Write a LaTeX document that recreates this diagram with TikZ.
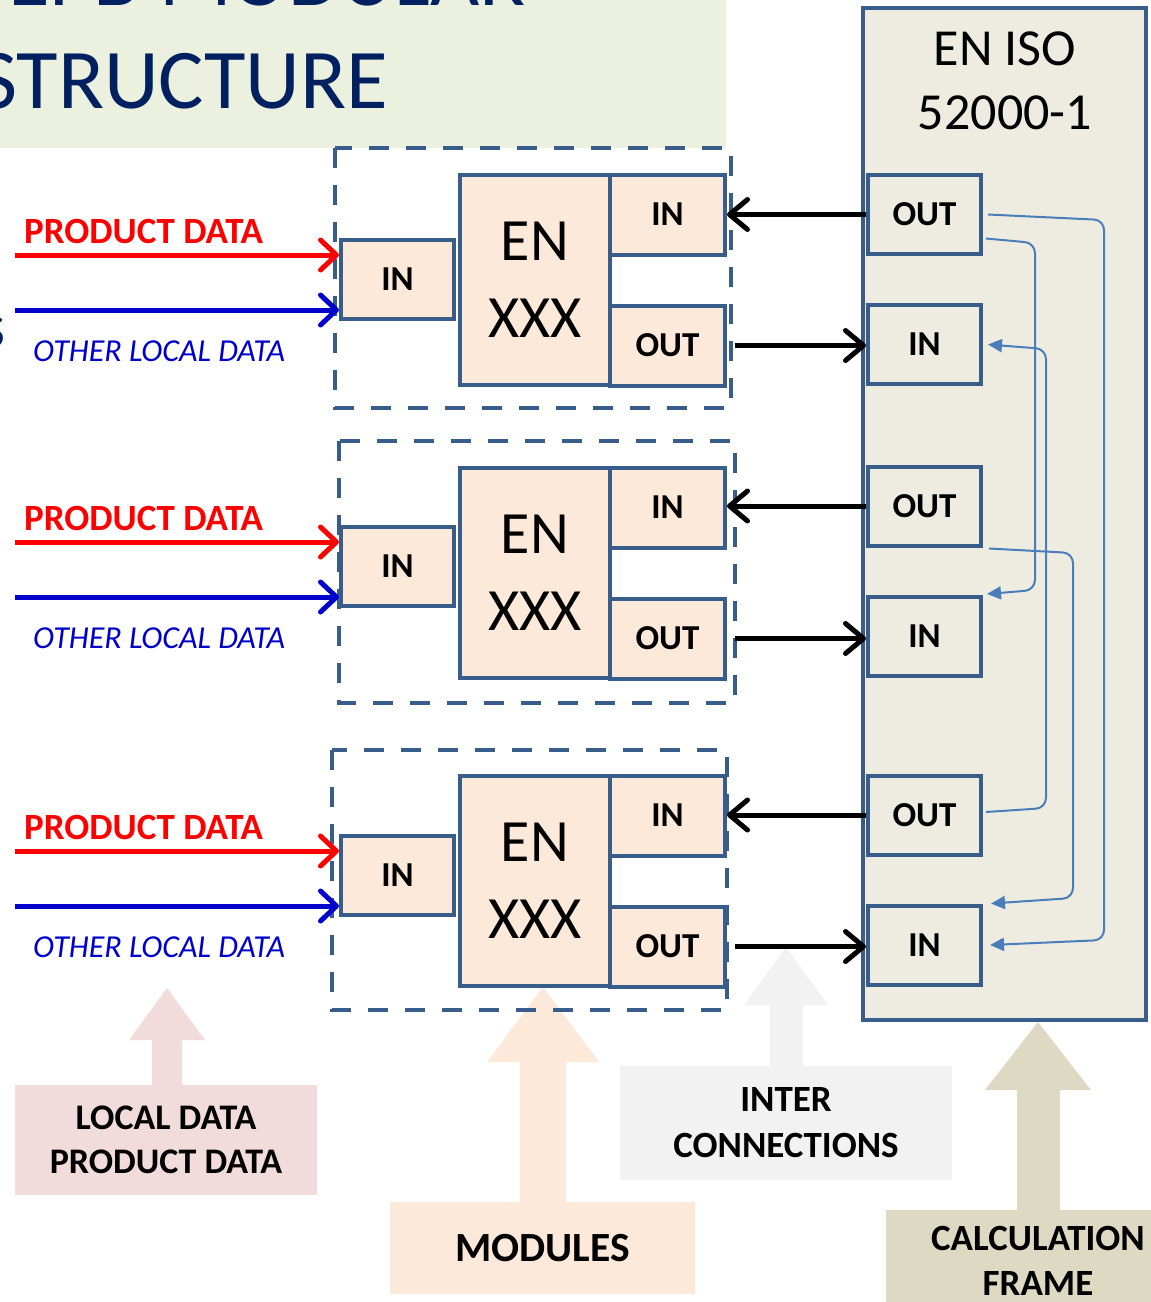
\documentclass[tikz,border=0pt]{standalone}
\usepackage{fontspec}
\setmainfont{Carlito}
\usetikzlibrary{arrows.meta,calc}

\definecolor{titlebg}{HTML}{EBF1DE}
\definecolor{navy}{HTML}{002060}
\definecolor{edge}{HTML}{385D8A}
\definecolor{peach}{HTML}{FDE9D9}
\definecolor{framefill}{HTML}{EEECE1}
\definecolor{linkblue}{HTML}{4A7EBB}
\definecolor{lightred}{HTML}{F2DCDB}
\definecolor{lightgrey}{HTML}{F2F2F2}
\definecolor{tanfill}{HTML}{DDD9C3}
\definecolor{datablue}{HTML}{0000CC}

\newcommand\fsz[2]{\fontsize{#1}{#2}\selectfont}

\tikzset{
  port/.style={draw=edge, line width=4pt, fill=peach, inner sep=0pt,
    font=\fsz{35}{40}\bfseries},
  rport/.style={port, fill=framefill, minimum width=113pt, minimum height=79pt},
  core/.style={draw=edge, line width=4pt, fill=peach, inner sep=0pt,
    minimum width=150pt, minimum height=210pt, align=center, font=\fsz{60}{77}},
  modframe/.style={draw=edge, line width=4pt, dash pattern=on 20pt off 17pt},
  feed/.style={line width=5pt, -{Straight Barb[length=16pt,width=30pt,round]}},
  wire/.style={line width=5pt, black, -{Straight Barb[length=18pt,width=30pt,round]}},
  link/.style={draw=linkblue, line width=2pt, rounded corners=10pt,
    -{Triangle[length=14pt,width=13pt]}},
  caption/.style={inner sep=0pt, align=center, font=\fsz{36}{44}\bfseries},
  titletext/.style={anchor=base west, inner sep=0pt, text=navy, font=\fsz{85}{100}},
}

\begin{document}
\begin{tikzpicture}[x=1pt,y=-1pt]
\useasboundingbox (0,0) rectangle (1151,1302);

% title band
\fill[titlebg] (0,0) rectangle (726,148);
\node[titletext] (title1) at (8,5) {EPB MODULAR};
\node[titletext] (title2) at (-22,108) {STRUCTURE};
\node[anchor=base east, inner sep=0pt, text=navy, font=\fsz{64}{70}] (edgefrag) at (6,347) {s};

% block arrows behind the captions
\fill[lightred]   (152,1095) -- (152,1040) -- (129,1040) -- (167,988)  -- (205,1040) -- (182,1040) -- (182,1095) -- cycle;
\fill[peach]      (520,1205) -- (520,1062) -- (487,1062) -- (543,987)  -- (599,1062) -- (566,1062) -- (566,1205) -- cycle;
\fill[lightgrey]  (770,1075) -- (770,1005) -- (744,1005) -- (786,947)  -- (828,1005) -- (803,1005) -- (803,1075) -- cycle;
\fill[tanfill]    (1017,1215) -- (1017,1090) -- (985,1090) -- (1038,1022) -- (1091,1090) -- (1060,1090) -- (1060,1215) -- cycle;

% captions
\node[caption, fill=lightred, minimum width=302pt, minimum height=110pt] (lblLocal) at (166,1140) {LOCAL DATA\\PRODUCT DATA};
\node[caption, fill=lightgrey, minimum width=332pt, minimum height=114pt, font=\fsz{37}{46}\bfseries] (lblInter) at (786,1123) {INTER\\CONNECTIONS};
\node[caption, fill=peach, minimum width=305pt, minimum height=92pt, font=\fsz{41.5}{48}\bfseries] (lblMod) at (542.5,1248) {MODULES};
\fill[tanfill] (886,1210) rectangle (1160,1310);
\node[caption, font=\fsz{37}{45}\bfseries] (lblCalc) at (1038,1261) {CALCULATION\\FRAME};

% calculation frame
\node[draw=edge, line width=4pt, fill=framefill, minimum width=283pt, minimum height=1012pt, inner sep=0pt] (frame) at (1004.5,514) {};
\node[anchor=north, inner sep=0pt, align=center, font=\fsz{52}{64}] (std) at (1005,32) {EN ISO\\52000-1};

\node[rport] (ro1) at (924.5,214.5) {OUT};
\node[rport] (ri1) at (924.5,344.5) {IN};
\node[rport] (ro2) at (924.5,506)   {OUT};
\node[rport] (ri2) at (924.5,636.5) {IN};
\node[rport] (ro3) at (924.5,815)   {OUT};
\node[rport] (ri3) at (924.5,945)   {IN};

% the three modules
\foreach \i/\cy/\iy/\fl/\ft/\fr/\fb in {1/280/279.5/335/148/731/408,
                                        2/573/566.5/339/441/735/703,
                                        3/881/875.5/332/750/727/1010}{
  \node[port, minimum width=113pt, minimum height=79pt] (min\i) at (397.5,\iy) {IN};
  \node[core] (core\i) at (535,\cy) {EN\\XXX};
  \node[port, minimum width=115pt, minimum height=80pt] (mret\i) at (667.5,\cy-65.5) {IN};
  \node[port, minimum width=115pt, minimum height=80pt] (mout\i) at (667.5,\cy+65.5) {OUT};
  \draw[modframe] (\fl,\ft) rectangle (\fr,\fb);
  \coordinate (pd\i) at (15,\iy-24.5);
  \coordinate (ol\i) at (15,\iy+30.5);
  \draw[feed, red] (pd\i) -- (pd\i -| min\i.west);
  \draw[feed, datablue] (ol\i) -- (ol\i -| min\i.west);
  \node[anchor=base west, inner sep=0pt, text=red, font=\fsz{37}{40}\bfseries] (pdl\i) at (24,\iy-36.5) {PRODUCT DATA};
  \node[anchor=base west, inner sep=0pt, text=datablue, font=\fsz{32}{36}\itshape] (oll\i) at (33,\iy+81.5) {OTHER LOCAL DATA};
  % exchange with the calculation frame
  \draw[wire] (ro\i.west) -- (ro\i.west -| mret\i.east);
  \draw[wire, shorten <=8pt] (mout\i.east) -- (mout\i.east -| ri\i.west);
}

% links inside the calculation frame
\draw[link] ($(ro1.east)+(5,0)$) -- (1104,220) -- (1104,940) -- ($(ri3.east)+(7,0)$);
\draw[link] ($(ro1.east)+(3,24)$) -- (1035,243) -- (1035,590) -- ($(ri2.north east)+(4,-1)$);
\draw[link] ($(ro3.east)+(3,-3)$) -- (1046,808) -- (1046,349) -- ($(ri1.east)+(5,0)$);
\draw[link] ($(ro2.south east)+(6,1)$) -- (1073,553) -- (1073,898) -- ($(ri3.north east)+(8,0)$);
\end{tikzpicture}
\end{document}
